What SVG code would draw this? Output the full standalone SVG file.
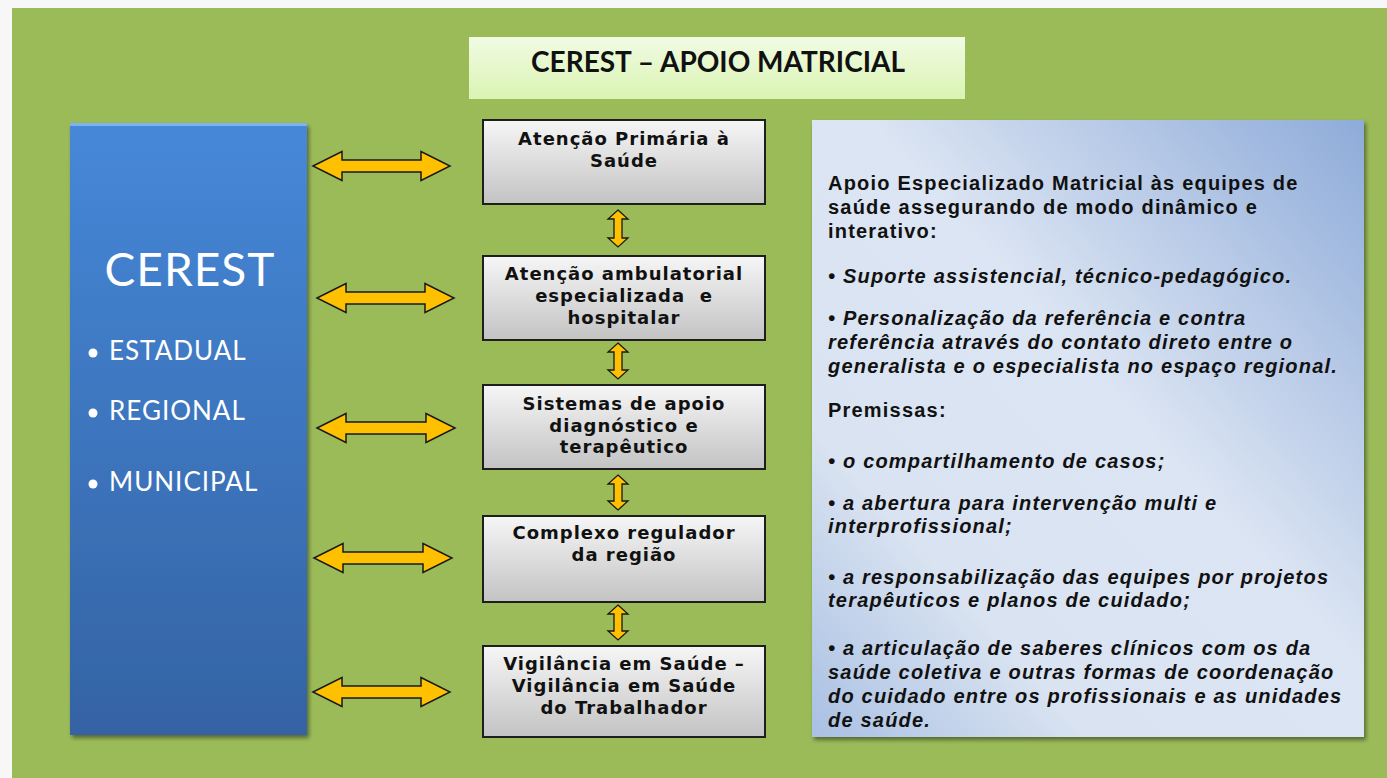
<svg xmlns="http://www.w3.org/2000/svg" width="1387" height="778" viewBox="0 0 1387 778">
  <defs>
    <linearGradient id="gBlue" x1="0" y1="0" x2="0" y2="1">
      <stop offset="0" stop-color="#4688D8"/>
      <stop offset="1" stop-color="#3463A4"/>
    </linearGradient>
    <linearGradient id="gTitle" x1="0" y1="0" x2="0" y2="1">
      <stop offset="0" stop-color="#F1FBE4"/>
      <stop offset="1" stop-color="#DAF4B2"/>
    </linearGradient>
    <linearGradient id="gBox" x1="0" y1="0" x2="0" y2="1">
      <stop offset="0" stop-color="#F6F6F6"/>
      <stop offset="1" stop-color="#C3C3C3"/>
    </linearGradient>
    <linearGradient id="gPanel" x1="1" y1="0" x2="0" y2="1">
      <stop offset="0" stop-color="#8EABD9"/>
      <stop offset="0.45" stop-color="#DCE5F3"/>
      <stop offset="0.75" stop-color="#D9E3F1"/>
      <stop offset="1" stop-color="#A9C0E3"/>
    </linearGradient>
    <filter id="shadow" x="-10%" y="-10%" width="130%" height="130%">
      <feGaussianBlur in="SourceAlpha" stdDeviation="2"/>
      <feOffset dx="2" dy="3" result="o"/>
      <feComponentTransfer><feFuncA type="linear" slope="0.45"/></feComponentTransfer>
      <feMerge><feMergeNode/><feMergeNode in="SourceGraphic"/></feMerge>
    </filter>
  </defs>
  <style>
    .box { fill: url(#gBox); stroke: #1E1E1E; stroke-width: 2; }
    .boxtxt { font-family: "DejaVu Sans", sans-serif; font-weight: bold; font-size: 18px; fill: #111; text-anchor: middle; letter-spacing: 1px; }
    .harrow { fill: #FFC000; stroke: #1A1A1A; stroke-width: 1.5; stroke-linejoin: miter; }
    .varrow { fill: #FFC000; stroke: #1A1A1A; stroke-width: 1.3; }
    .ptxt { font-family: "Liberation Sans", Arial, sans-serif; font-weight: bold; font-size: 20px; fill: #111; letter-spacing: 1.2px; }
    .it { font-style: italic; }
    .lvl { font-family: Lato, "Open Sans", sans-serif; font-size: 26px; fill: #FFFFFF; letter-spacing: 1px; }
  </style>

  <rect x="0" y="0" width="1387" height="778" fill="#F7F7F7"/>
  <rect x="12" y="8" width="1375" height="770" fill="#9BBB59"/>

  <g id="title">
    <rect x="469" y="37" width="496" height="62" fill="url(#gTitle)"/>
    <text x="718" y="72" font-family="Lato, 'Open Sans', sans-serif" font-weight="bold" font-size="28px" fill="#111" text-anchor="middle">CEREST – APOIO MATRICIAL</text>
  </g>

  <g id="cerest">
    <rect x="70" y="123" width="237" height="612" fill="url(#gBlue)" filter="url(#shadow)"/>
    <rect x="70" y="123" width="237" height="3" fill="#7AB3EE"/>
    <text x="190" y="286" font-family="Lato, 'Open Sans', sans-serif" font-size="46px" fill="#FFFFFF" text-anchor="middle" letter-spacing="1">CEREST</text>
    <circle cx="93" cy="353" r="4.5" fill="#FFFFFF"/>
    <text class="lvl" x="109" y="360">ESTADUAL</text>
    <circle cx="93" cy="413" r="4.5" fill="#FFFFFF"/>
    <text class="lvl" x="109" y="420">REGIONAL</text>
    <circle cx="93" cy="484" r="4.5" fill="#FFFFFF"/>
    <text class="lvl" x="109" y="491">MUNICIPAL</text>
  </g>

  <g id="n1">
    <rect class="box" x="483" y="120" width="282" height="84"/>
    <text class="boxtxt" x="624" y="145">Atenção Primária à</text>
    <text class="boxtxt" x="624" y="167">Saúde</text>
  </g>
  <g id="n2">
    <rect class="box" x="483" y="256" width="282" height="84"/>
    <text class="boxtxt" x="624" y="280">Atenção ambulatorial</text>
    <text class="boxtxt" x="624" y="302" xml:space="preserve">especializada  e</text>
    <text class="boxtxt" x="624" y="324">hospitalar</text>
  </g>
  <g id="n3">
    <rect class="box" x="483" y="385" width="282" height="84"/>
    <text class="boxtxt" x="624" y="410">Sistemas de apoio</text>
    <text class="boxtxt" x="624" y="432">diagnóstico e</text>
    <text class="boxtxt" x="624" y="453">terapêutico</text>
  </g>
  <g id="n4">
    <rect class="box" x="483" y="516" width="282" height="86"/>
    <text class="boxtxt" x="624" y="539">Complexo regulador</text>
    <text class="boxtxt" x="624" y="561">da região</text>
  </g>
  <g id="n5">
    <rect class="box" x="483" y="646" width="282" height="91"/>
    <text class="boxtxt" x="624" y="670">Vigilância em Saúde –</text>
    <text class="boxtxt" x="624" y="692">Vigilância em Saúde</text>
    <text class="boxtxt" x="624" y="714">do Trabalhador</text>
  </g>

  <g id="panel">
    <rect x="812" y="120" width="552" height="617" fill="url(#gPanel)" filter="url(#shadow)"/>
    <text class="ptxt" x="828" y="190">Apoio Especializado Matricial às equipes de</text>
    <text class="ptxt" x="828" y="214">saúde assegurando de modo dinâmico e</text>
    <text class="ptxt" x="828" y="238">interativo:</text>
    <text class="ptxt it" x="828" y="283">• Suporte assistencial, técnico-pedagógico.</text>
    <text class="ptxt it" x="828" y="325">• Personalização da referência e contra</text>
    <text class="ptxt it" x="828" y="349">referência através do contato direto entre o</text>
    <text class="ptxt it" x="828" y="373">generalista e o especialista no espaço regional.</text>
    <text class="ptxt" x="828" y="417">Premissas:</text>
    <text class="ptxt it" x="828" y="468">• o compartilhamento de casos;</text>
    <text class="ptxt it" x="828" y="510">• a abertura para intervenção multi e</text>
    <text class="ptxt it" x="828" y="533">interprofissional;</text>
    <text class="ptxt it" x="828" y="584">• a responsabilização das equipes por projetos</text>
    <text class="ptxt it" x="828" y="607">terapêuticos e planos de cuidado;</text>
    <text class="ptxt it" x="828" y="655">• a articulação de saberes clínicos com os da</text>
    <text class="ptxt it" x="828" y="679">saúde coletiva e outras formas de coordenação</text>
    <text class="ptxt it" x="828" y="703">do cuidado entre os profissionais e as unidades</text>
    <text class="ptxt it" x="828" y="727">de saúde.</text>
  </g>

  <g id="connectors">
    <polygon class="harrow" points="313,166 342,151.5 342,160 421,160 421,151.5 450,166 421,180.5 421,172 342,172 342,180.5"/>
    <polygon class="harrow" points="317,298 346,283.5 346,292 425,292 425,283.5 454,298 425,312.5 425,304 346,304 346,312.5"/>
    <polygon class="harrow" points="317,428 346,413.5 346,422 426,422 426,413.5 455,428 426,442.5 426,434 346,434 346,442.5"/>
    <polygon class="harrow" points="314,558 343,543.5 343,552 423,552 423,543.5 452,558 423,572.5 423,564 343,564 343,572.5"/>
    <polygon class="harrow" points="313,692 342,677.5 342,686 421,686 421,677.5 450,692 421,706.5 421,698 342,698 342,706.5"/>

    <polygon class="varrow" points="618,210 628,219 622,219 622,238 628,238 618,247 608,238 614,238 614,219 608,219"/>
    <polygon class="varrow" points="618,343 628,352 622,352 622,370 628,370 618,379 608,370 614,370 614,352 608,352"/>
    <polygon class="varrow" points="618,475 628,484 622,484 622,501 628,501 618,510 608,501 614,501 614,484 608,484"/>
    <polygon class="varrow" points="618,605 628,614 622,614 622,631 628,631 618,640 608,631 614,631 614,614 608,614"/>
  </g>
</svg>
